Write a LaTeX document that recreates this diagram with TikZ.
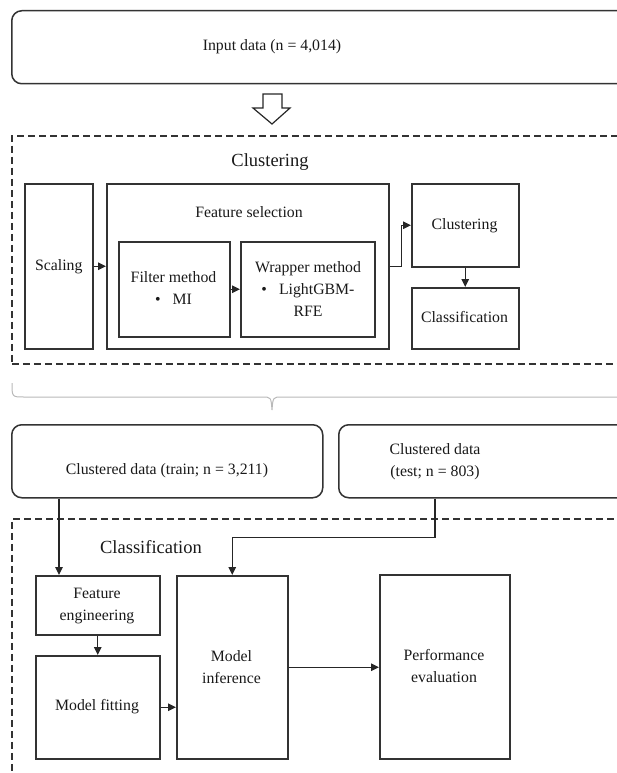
\documentclass[tikz,border=0pt]{standalone}
\usepackage{fontspec}
\setmainfont{Liberation Serif}
\usetikzlibrary{arrows.meta,calc}
\begin{document}
\begin{tikzpicture}[x=1pt,y=-1pt,
 every node/.style={font=\fontsize{15.8}{22}\selectfont, align=center, inner sep=0pt, text=black!90},
 box/.style={draw=black!80, line width=1.5pt, rectangle, anchor=north west},
 rbox/.style={box, rounded corners=10pt},
 dbox/.style={draw=black!80, line width=1.5pt, dash pattern=on 7pt off 4pt, rectangle, anchor=north west},
 titletext/.style={font=\fontsize{18.5}{22}\selectfont},
 arr/.style={draw=black!85, line width=1.2pt, -{Triangle[length=8pt,width=7.5pt]}},
]
\useasboundingbox (0,0) rectangle (617,773);
\clip (0,0) rectangle (617,773);

% input
\node[rbox, minimum width=629, minimum height=73] (input) at (11,10) {};
\node (inputtxt) at (272,47) {Input data (n = 4,014)};

% open arrow
\draw[draw=black!85, line width=1.2pt, line join=miter] (263,94) -- (282,94) -- (282,108) -- (290,108) -- (272,124) -- (253,108) -- (263,108) -- cycle;

% clustering part
\node[dbox, minimum width=629, minimum height=228] (clubox) at (11,135) {};
\node[titletext] (clutitle) at (270,162) {Clustering};

\node[box, minimum width=68, minimum height=165] (scal) at (24,183) {};
\node (scaltxt) at (scal.center) {Scaling};
\node[box, minimum width=282, minimum height=165] (fs) at (106,183) {};
\node (fstitle) at (249,212) {Feature selection};
\node[box, minimum width=111, minimum height=95] (filt) at (118,241) {};
\node (filttxt) at (173.5,288) {Filter method\\\textbullet\hspace{12pt}MI};
\node[box, minimum width=134, minimum height=95] (wrap) at (240,241) {};
\node (wraptxt) at (308,289) {Wrapper method\\\textbullet\hspace{12pt}LightGBM-\\RFE};
\node[box, minimum width=107, minimum height=83] (clust) at (411,183) {};
\node (clusttxt) at (464.5,226) {Clustering};
\node[box, minimum width=107, minimum height=61] (class) at (411,287) {};
\node (classtxt) at (464.5,317) {Classification};

\draw[arr] (scal.east) -- (scal.east -| fs.west);
\draw[arr] (filt.east) -- (filt.east -| wrap.west);
\draw[arr] (fs.east) -- ++(12,0) |- (clust.west);
\draw[arr] (clust.south) -- (class.north);

% brace
\draw[gray!55, line width=1pt] (12,383) .. controls (12,397) .. (24,397) -- (262,397) .. controls (271,397) .. (272,410) .. controls (273,397) .. (282,397) -- (640,397);

% data split
\node[rbox, minimum width=311, minimum height=73] (train) at (11,424) {};
\node (traintxt) at (167,471) {Clustered data (train; n = 3,211)};
\node[rbox, minimum width=302, minimum height=73] (test) at (338,424) {};
\node (testtxt) at (435,461.5) {Clustered data\\(test; n = 803)};

% classification part
\node[dbox, minimum width=629, minimum height=290] (clabox) at (11,518) {};
\node[titletext] (clatitle) at (151,547) {Classification};

\node[box, minimum width=124, minimum height=59] (fe) at (35,575) {};
\node (fetxt) at (97,606) {Feature\\engineering};
\node[box, minimum width=124, minimum height=103] (mf) at (35,655) {};
\node (mftxt) at (97,707) {Model fitting};
\node[box, minimum width=111, minimum height=183] (mi) at (176,575) {};
\node (mitxt) at (231.5,667) {Model\\inference};
\node[box, minimum width=130, minimum height=184] (pe) at (379,574) {};
\node (petxt) at (444,666.5) {Performance\\evaluation};

\draw[arr] ([xshift=24pt]fe.north west |- train.south) -- ([xshift=24pt]fe.north west);
\draw[arr] ([xshift=97pt]test.south west) -- ++(0,39) -| (mi.north);
\draw[arr] (fe.south) -- (mf.north);
\draw[arr] (mf.east) -- (mf.east -| mi.west);
\draw[arr] (mi.east) -- (mi.east -| pe.west);
\end{tikzpicture}
\end{document}
